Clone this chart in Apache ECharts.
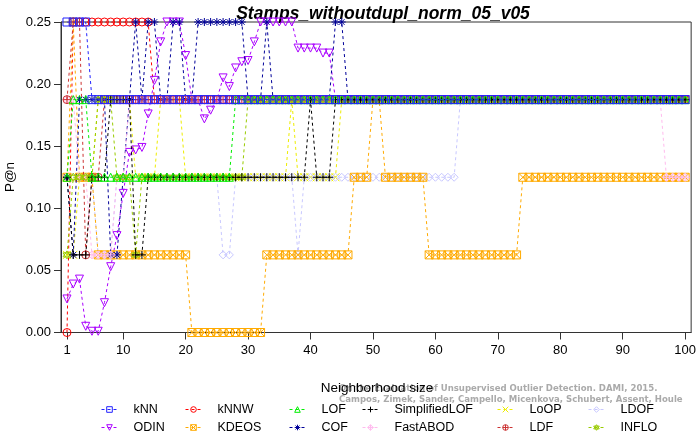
<!DOCTYPE html>
<html><head><meta charset="utf-8">
<script src="https://cdn.jsdelivr.net/npm/echarts@6/dist/echarts.min.js"></script>
<style>html,body{margin:0;padding:0;background:#fff}#c{width:699px;height:434px}</style>
</head><body><div id="c"></div>
<script>
// P@n levels (multiples of 1/16)
const A=0.25,B=0.1875,C=0.125,D=0.0625;

const kNN=[A,A,A,A,B,B,B,B,B,B, B,B,B,B,B,B,B,B,B,B, B,B,B,B,B,B,B,B,B,B, B,B,B,B,B,B,B,B,B,B, B,B,B,B,B,B,B,B,B,B,
 B,B,B,B,B,B,B,B,B,B, B,B,B,B,B,B,B,B,B,B, B,B,B,B,B,B,B,B,B,B, B,B,B,B,B,B,B,B,B,B, B,B,B,B,B,B,B,B,B,B];
const kNNW=[0,A,A,A,A,A,A,A,A,A, A,A,A,A,B,B,B,B,B,B, B,B,B,B,B,B,B,B,B,B, B,B,B,B,B,B,B,B,B,B, B,B,B,B,B,B,B,B,B,B,
 B,B,B,B,B,B,B,B,B,B, B,B,B,B,B,B,B,B,B,B, B,B,B,B,B,B,B,B,B,B, B,B,B,B,B,B,B,B,B,B, B,B,B,B,B,B,B,B,B,B];
const LOF=[C,B,B,B,C,C,C,C,C,C, C,C,C,C,C,C,C,C,C,C, C,C,C,C,C,C,C,B,B,B, B,B,B,B,B,B,B,B,B,B, B,B,B,B,B,B,B,B,B,B,
 B,B,B,B,B,B,B,B,B,B, B,B,B,B,B,B,B,B,B,B, B,B,B,B,B,B,B,B,B,B, B,B,B,B,B,B,B,B,B,B, B,B,B,B,B,B,B,B,B,B];
const SimplifiedLOF=[C,D,D,D,C,C,C,B,B,B, B,D,D,C,C,C,C,C,C,C, C,C,C,C,C,C,C,C,C,C, C,C,C,C,C,C,C,C,C,B, C,C,C,B,B,B,B,B,B,B,
 B,B,B,B,B,B,B,B,B,B, B,B,B,B,B,B,B,B,B,B, B,B,B,B,B,B,B,B,B,B, B,B,B,B,B,B,B,B,B,B, B,B,B,B,B,B,B,B,B,B];
const LoOP=[D,D,C,C,C,B,B,B,B,B, B,C,C,C,C,B,B,B,B,C, C,C,C,C,C,C,C,C,C,C, C,C,C,C,C,C,B,C,C,C, C,C,C,C,B,B,B,B,B,B,
 B,B,B,B,B,B,B,B,B,B, B,B,B,B,B,B,B,B,B,B, B,B,B,B,B,B,B,B,B,B, B,B,B,B,B,B,B,B,B,B, B,B,B,B,B,B,B,B,B,B];
const LDOF=[C,C,C,C,C,D,D,D,C,C, C,C,C,C,C,C,C,C,C,C, C,C,C,C,C,D,D,C,C,C, C,C,C,C,C,C,C,D,C,C, C,C,C,C,C,C,C,C,C,C,
 C,C,C,C,C,C,C,C,C,C, C,C,C,B,B,B,B,B,B,B, B,B,B,B,B,B,B,B,B,B, B,B,B,B,B,B,B,B,B,B, B,B,B,B,B,B,B,B,B,B];
const ODIN=[0.027,0.039,0.043,0.005,0.001,0.001,0.024,0.053,0.078,0.112,
 0.145,0.147,0.149,0.176,0.203,0.234,A,A,A,0.223,
 B,B,0.172,0.179,B,0.205,0.198,0.213,0.218,0.219,
 0.234,A,A,A,A,A,A,0.229,0.229,0.229,
 0.229,0.225,0.225,B,B,B,B,B,B,B,
 B,B,B,B,B,B,B,B,B,B, B,B,B,B,B,B,B,B,B,B, B,B,B,B,B,B,B,B,B,B, B,B,B,B,B,B,B,B,B,B, B,B,B,B,B,B,B,B,B,B];
const KDEOS=[C,A,C,C,C,D,D,D,D,D, D,D,D,D,D,D,D,D,D,D, 0,0,0,0,0,0,0,0,0,0, 0,0,D,D,D,D,D,D,D,D, D,D,D,D,D,D,C,C,C,B,
 B,C,C,C,C,C,C,C,D,D, D,D,D,D,D,D,D,D,D,D, D,D,D,C,C,C,C,C,C,C, C,C,C,C,C,C,C,C,C,C, C,C,C,C,C,C,C,C,C,C];
const COF=[C,D,B,B,B,B,B,D,D,C, B,A,B,A,A,B,B,A,A,B, B,A,A,A,A,A,A,A,A,B, B,B,A,B,B,B,B,B,B,B, B,B,B,A,A,B,B,B,B,B,
 B,B,B,B,B,B,B,B,B,B, B,B,B,B,B,B,B,B,B,B, B,B,B,B,B,B,B,B,B,B, B,B,B,B,B,B,B,B,B,B, B,B,B,B,B,B,B,B,B,B];
const FastABOD=[B,B,C,C,D,D,D,D,C,C, B,B,B,B,B,B,B,B,B,B, B,B,B,B,B,B,B,B,B,B, B,B,B,B,B,B,B,B,B,B, B,B,B,B,B,B,B,B,B,B,
 B,B,B,B,B,B,B,B,B,B, B,B,B,B,B,B,B,B,B,B, B,B,B,B,B,B,B,B,B,B, B,B,B,B,B,B,B,B,B,B, B,B,B,B,B,B,C,C,C,C];
const LDF=[B,A,A,D,C,C,B,B,B,B, B,B,B,B,B,B,B,B,B,B, B,B,B,B,B,B,B,B,B,B, B,B,B,B,B,B,B,B,B,B, B,B,B,B,B,B,B,B,B,B,
 B,B,B,B,B,B,B,B,B,B, B,B,B,B,B,B,B,B,B,B, B,B,B,B,B,B,B,B,B,B, B,B,B,B,B,B,B,B,B,B, B,B,B,B,B,B,B,B,B,B];
const INFLO=[D,C,C,C,C,B,B,B,C,C, C,D,C,C,C,C,C,C,C,C, C,C,C,C,C,C,C,C,C,B, B,B,B,B,B,B,B,B,B,B, B,B,B,B,B,B,B,B,B,B,
 B,B,B,B,B,B,B,B,B,B, B,B,B,B,B,B,B,B,B,B, B,B,B,B,B,B,B,B,B,B, B,B,B,B,B,B,B,B,B,B, B,B,B,B,B,B,B,B,B,B];

const methodNames=['kNN','kNNW','LOF','SimplifiedLOF','LoOP','LDOF','ODIN','KDEOS','COF','FastABOD','LDF','INFLO'];
const methodValues=[kNN,kNNW,LOF,SimplifiedLOF,LoOP,LDOF,ODIN,KDEOS,COF,FastABOD,LDF,INFLO];
const xTickValues=[1,10,20,30,40,50,60,70,80,90,100];
const yTickValues=[0,0.05,0.1,0.15,0.2,0.25];

// styles
const colors=['#2222ff','#ff0000','#00ee00','#000000','#eeee00','#c8c8ff','#aa00ff','#ffaa00','#000099','#ffbbee','#cc3333','#99cc00'];
const symbols=[
 'path://M0,0L10,0L10,10L0,10Z',
 'circle',
 'path://M5,0L10,8.66L0,8.66Z',
 'path://M5,0L5,10M0,5L10,5',
 'path://M0,0L10,10M10,0L0,10',
 'path://M5,0L10,5L5,10L0,5Z',
 'path://M0,0L10,0L5,8.66Z',
 'path://M0,0L10,0L10,10L0,10Z M0,0L10,10M10,0L0,10',
 'path://M5,0L5,10M0,5L10,5M1.5,1.5L8.5,8.5M8.5,1.5L1.5,8.5',
 'path://M5,0L10,5L5,10L0,5Z M5,0L5,10M0,5L10,5',
 'path://M0,5A5,5,0,1,1,10,5A5,5,0,1,1,0,5Z M5,0L5,10M0,5L10,5',
 'path://M5,0L9.33,7.5L0.67,7.5Z M5,10L0.67,2.5L9.33,2.5Z'
];
const zOrder=[20,2,19,18,6,7,8,9,10,11,12,13];
const FONT='Liberation Sans';

const series=methodNames.map((name,i)=>({
  name:name,type:'line',
  data:methodValues[i].map((v,j)=>[j+1,v]),
  symbol:symbols[i],symbolSize:8,
  lineStyle:{color:colors[i],width:1,type:[3,3]},
  itemStyle:{color:'rgba(0,0,0,0)',borderColor:colors[i],borderWidth:1},
  emphasis:{disabled:true},
  z:zOrder[i]
}));

// legend: 6 columns x 2 rows, one component per entry
const legendColLeft=[96,180,284,357,492,583];
const legendRowTop=[398,416];
const legends=methodNames.map((name,i)=>({
  data:[name],left:legendColLeft[i%6],top:legendRowTop[Math.floor(i/6)],selectedMode:false,
  itemWidth:16,itemHeight:7,
  itemStyle:{color:'rgba(0,0,0,0)',borderColor:colors[i],borderWidth:1},
  lineStyle:{color:colors[i],width:1,type:[3,3]},
  textStyle:{fontFamily:FONT,fontSize:12.5,color:'#000',padding:[0,0,0,11]}
}));

const chart=echarts.init(document.getElementById('c'),null,{renderer:'canvas'});
chart.setOption({
  animation:false,
  backgroundColor:'#fff',
  title:{text:'Stamps_withoutdupl_norm_05_v05',left:378,top:0,textAlign:'center',
    textStyle:{fontFamily:FONT,fontSize:17.5,fontWeight:'bold',fontStyle:'italic',color:'#000'}},
  grid:{left:61,right:7,top:22,bottom:101.5,show:true,borderColor:'#333',borderWidth:1,backgroundColor:'transparent'},
  xAxis:{type:'value',min:0.04,max:100.96,
    axisLine:{show:true,onZero:false,lineStyle:{color:'#333'}},
    axisTick:{show:true,length:7,inside:false,customValues:xTickValues,lineStyle:{color:'#333'}},
    axisLabel:{customValues:xTickValues,margin:11,fontFamily:FONT,fontSize:13,color:'#000'},
    splitLine:{show:false}},
  yAxis:{type:'value',min:0,max:0.25,
    axisLine:{show:true,onZero:false,lineStyle:{color:'#333'}},
    axisTick:{show:true,length:7,inside:false,customValues:yTickValues,lineStyle:{color:'#333'}},
    axisLabel:{customValues:yTickValues,margin:10,fontFamily:FONT,fontSize:13,color:'#000',formatter:v=>v.toFixed(2)},
    splitLine:{show:false}},
  legend:legends,
  graphic:[
    {type:'text',x:339,y:389,z:1,style:{text:'On the Evaluation of Unsupervised Outlier Detection. DAMI, 2015.',fontFamily:'DejaVu Sans Condensed',fontWeight:'bold',fontSize:9.5,fill:'#aaaaaa',textAlign:'left',textVerticalAlign:'middle'}},
    {type:'text',x:339,y:400,z:1,style:{text:'Campos, Zimek, Sander, Campello, Micenkova, Schubert, Assent, Houle',fontFamily:'DejaVu Sans Condensed',fontWeight:'bold',fontSize:9.5,fill:'#aaaaaa',textAlign:'left',textVerticalAlign:'middle'}},
    {type:'text',x:377,y:388,z:10,style:{text:'Neighborhood size',fontFamily:FONT,fontSize:13.5,fill:'#000',textAlign:'center',textVerticalAlign:'middle'}},
    {type:'text',x:10,y:177,rotation:Math.PI/2,z:10,style:{text:'P@n',fontFamily:FONT,fontSize:13.5,fill:'#000',textAlign:'center',textVerticalAlign:'middle'}}
  ],
  series:series
});
</script>
</body></html>
